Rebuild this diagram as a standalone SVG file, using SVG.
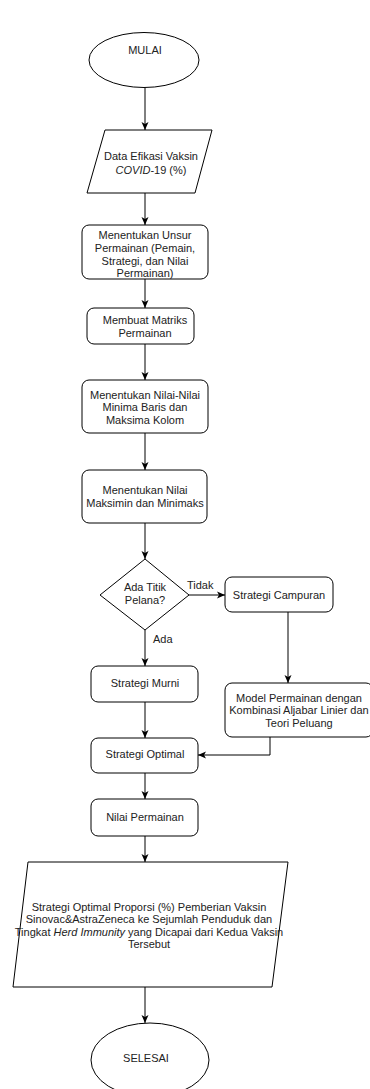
<svg xmlns="http://www.w3.org/2000/svg" width="370" height="1089" viewBox="0 0 370 1089">
<style>
.s{fill:#fff;stroke:#000;stroke-width:1}
.t{font-family:"Liberation Sans",Arial,sans-serif;font-size:11px;fill:#222;text-anchor:middle}
.l{font-family:"Liberation Sans",Arial,sans-serif;font-size:11px;fill:#222}
.c{fill:none;stroke:#000;stroke-width:1}
</style>
<defs>
<marker id="a" markerUnits="userSpaceOnUse" markerWidth="9" markerHeight="8" refX="8" refY="4" orient="auto">
<path d="M0,0.5 L8,4 L0,7.5 L2,4 z" fill="#000"/>
</marker>
</defs>
<rect width="370" height="1089" fill="#fff"/>
<g id="connectors">
<path class="c" d="M145,88 V130" marker-end="url(#a)"/>
<path class="c" d="M145,193 V225" marker-end="url(#a)"/>
<path class="c" d="M145,279 V308" marker-end="url(#a)"/>
<path class="c" d="M145,344 V380" marker-end="url(#a)"/>
<path class="c" d="M145,433 V470" marker-end="url(#a)"/>
<path class="c" d="M145,523 V559" marker-end="url(#a)"/>
<path class="c" d="M189,595 H225" marker-end="url(#a)"/>
<path class="c" d="M145,630 V666" marker-end="url(#a)"/>
<path class="c" d="M288,612 V683" marker-end="url(#a)"/>
<path class="c" d="M145,702 V738" marker-end="url(#a)"/>
<path class="c" d="M270,737 V755 H198" marker-end="url(#a)"/>
<path class="c" d="M145,773 V799" marker-end="url(#a)"/>
<path class="c" d="M145,836 V862" marker-end="url(#a)"/>
<path class="c" d="M145,987 V1023" marker-end="url(#a)"/>
<text class="l" x="187" y="589">Tidak</text>
<text class="l" x="153" y="643">Ada</text>
</g>
<g id="mulai">
<ellipse class="s" cx="144" cy="60" rx="55" ry="27.5"/>
<text class="t" x="145" y="54">MULAI</text>
</g>
<g id="data">
<polygon class="s" points="105,130 212,130 195,193 87,193"/>
<text class="t" x="151" y="160">Data Efikasi Vaksin</text>
<text class="t" x="151" y="174"><tspan font-style="italic">COVID</tspan>-19 (%)</text>
</g>
<g id="unsur">
<rect class="s" x="82" y="225" width="126" height="54" rx="7"/>
<text class="t" x="145" y="239">Menentukan Unsur</text>
<text class="t" x="145" y="252">Permainan (Pemain,</text>
<text class="t" x="145" y="265">Strategi, dan Nilai</text>
<text class="t" x="145" y="277">Permainan)</text>
</g>
<g id="matriks">
<rect class="s" x="87" y="308" width="107" height="36" rx="7"/>
<text class="t" x="145" y="324">Membuat Matriks</text>
<text class="t" x="145" y="337">Permainan</text>
</g>
<g id="minima">
<rect class="s" x="82" y="380" width="126" height="53" rx="7"/>
<text class="t" x="145" y="399">Menentukan Nilai-Nilai</text>
<text class="t" x="145" y="411">Minima Baris dan</text>
<text class="t" x="145" y="424">Maksima Kolom</text>
</g>
<g id="maksimin">
<rect class="s" x="82" y="470" width="125" height="53" rx="7"/>
<text class="t" x="145" y="494">Menentukan Nilai</text>
<text class="t" x="145" y="507">Maksimin dan Minimaks</text>
</g>
<g id="pelana">
<polygon class="s" points="145,559 189,595 145,630 100,595"/>
<text class="t" x="145" y="591">Ada Titik</text>
<text class="t" x="145" y="604">Pelana?</text>
</g>
<g id="campuran">
<rect class="s" x="225" y="577" width="108" height="35" rx="7"/>
<text class="t" x="279" y="599">Strategi Campuran</text>
</g>
<g id="murni">
<rect class="s" x="91" y="666" width="107" height="36" rx="7"/>
<text class="t" x="145" y="687">Strategi Murni</text>
</g>
<g id="model">
<rect class="s" x="225" y="683" width="148" height="54" rx="7"/>
<text class="t" x="299" y="702">Model Permainan dengan</text>
<text class="t" x="299" y="714">Kombinasi Aljabar Linier dan</text>
<text class="t" x="299" y="727">Teori Peluang</text>
</g>
<g id="optimal">
<rect class="s" x="91" y="738" width="107" height="35" rx="7"/>
<text class="t" x="145" y="758">Strategi Optimal</text>
</g>
<g id="nilai">
<rect class="s" x="91" y="799" width="107" height="37" rx="7"/>
<text class="t" x="145" y="821">Nilai Permainan</text>
</g>
<g id="hasil">
<polygon class="s" points="28,862 288,862 272,987 13,987"/>
<text class="t" x="149" y="911">Strategi Optimal Proporsi (%) Pemberian Vaksin</text>
<text class="t" x="149" y="923">Sinovac&amp;AstraZeneca ke Sejumlah Penduduk dan</text>
<text class="t" x="149" y="936">Tingkat <tspan font-style="italic">Herd Immunity</tspan> yang Dicapai dari Kedua Vaksin</text>
<text class="t" x="149" y="948">Tersebut</text>
</g>
<g id="selesai">
<ellipse class="s" cx="150" cy="1060" rx="59" ry="37"/>
<text class="t" x="146" y="1062">SELESAI</text>
</g>
</svg>
